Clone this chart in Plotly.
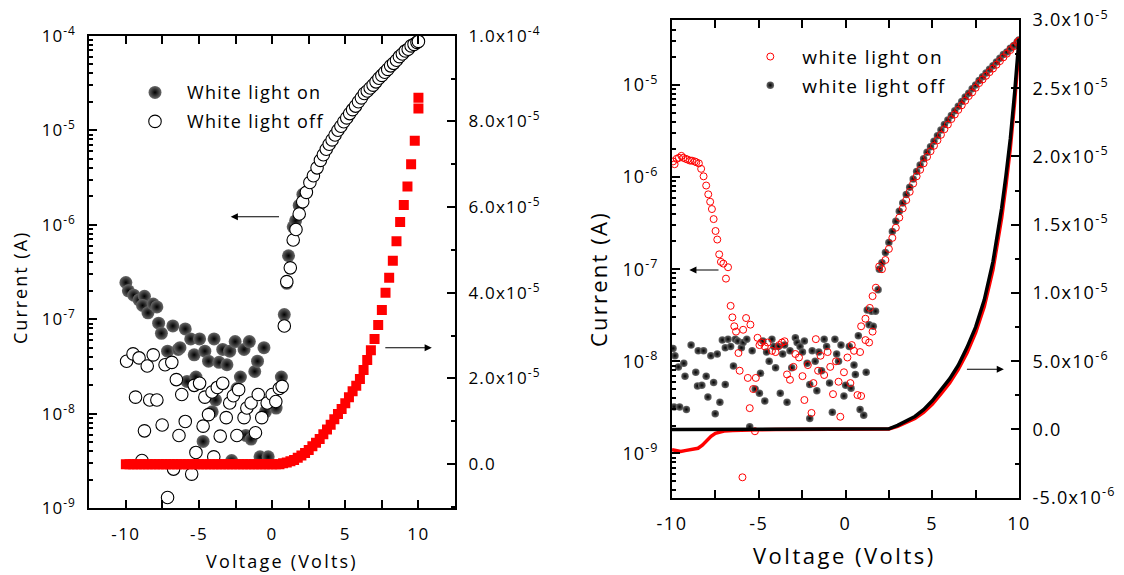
import plotly.graph_objects as go

W, H = 1124, 575
FONT = "Open Sans"

# ---------------- Left panel data ----------------
# White light on (filled spheres), log axis
L_on_v = [-10.0, -9.83, -9.46, -9.1, -8.73, -8.86, -8.49, -8.13, -7.88, -7.76, -7.57, -7.15,
          -6.79, -6.42, -5.94, -5.57, -5.33, -4.96, -4.6, -4.35, -3.97, -3.63, -3.38, -3.09,
          -2.9, -2.53, -2.17, -1.92, -1.56, -1.19, -1.0, -0.56, -0.46, 0.27, 0.63, 0.83,
          -5.82, -5.21, -3.87, -4.1, -4.72, -1.8, -1.44, -0.83, -0.27, -2.77, -2.41, -6.3,
          1.0, 1.12, 1.44, 1.6, 1.85, 2.1]
L_on_i = [2.45e-7, 2.0e-7, 1.8e-7, 1.6e-7, 1.75e-7, 1.4e-7, 1.17e-7, 1.45e-7, 1.35e-7, 9.1e-8, 7.1e-8, 4.6e-8,
          8.5e-8, 4.8e-8, 7.9e-8, 6.2e-8, 4.2e-8, 6.2e-8, 4.6e-8, 3.6e-8, 6.2e-8, 3.5e-8, 4.8e-8, 3.3e-8,
          4.6e-8, 5.8e-8, 2.45e-8, 4.8e-8, 5.8e-8, 2.8e-8, 3.6e-8, 5.0e-8, 1.05e-8, 1.15e-8, 2.45e-8, 1.12e-7,
          2.2e-8, 2.45e-8, 1.4e-8, 1.05e-8, 5.1e-9, 5.9e-9, 5.4e-9, 3.5e-9, 3.5e-9, 3.2e-9, 1.85e-8, 5.0e-8,
          2.4e-7, 4.7e-7, 9.5e-7, 1.1e-6, 1.6e-6, 2.1e-6]

# White light off (open circles), log axis
L_off_v = [-9.95, -9.51, -9.1, -8.54, -8.13, -7.32, -6.86, -9.34, -8.37, -7.88, -8.73, -7.52,
           -6.55, -6.18, -5.94, -6.37, -5.33, -4.96, -4.6, -4.72, -4.35, -4.11, -3.75, -3.38,
           -3.55, -3.14, -2.9, -2.65, -2.41, -2.29, -1.92, -1.73, -1.44, -1.14, -0.95, -0.71,
           -0.34, 0.0, 0.25, 0.49, 0.68, -8.9, -5.21, -6.74, -5.5, -7.15, -3.99,
           0.83, 1.0, 1.24, 1.44, 1.63, 1.85, 2.09, 2.34, 2.58, 2.82, 3.07,
           3.3, 3.5, 3.7, 3.9, 4.1, 4.3, 4.5, 4.7, 4.9, 5.1, 5.3, 5.5, 5.7, 5.9, 6.1, 6.3,
           6.5, 6.7, 6.9, 7.1, 7.3, 7.5, 7.7, 7.9, 8.1, 8.3, 8.5, 8.7, 8.9, 9.1, 9.3, 9.5,
           9.7, 9.9, 10.0]
L_off_i = [3.6e-8, 4.3e-8, 3.9e-8, 3.2e-8, 4.2e-8, 3.3e-8, 3.5e-8, 1.5e-8, 1.4e-8, 1.4e-8, 6.6e-9, 7.6e-9,
           2.3e-8, 1.6e-8, 8.3e-9, 5.9e-9, 2.0e-8, 2.1e-8, 1.5e-8, 7.4e-9, 9.8e-9, 1.7e-8, 1.9e-8, 2.1e-8,
           5.8e-9, 9.1e-9, 1.3e-8, 1.55e-8, 5.9e-9, 1.8e-8, 9.1e-9, 1.15e-8, 1.3e-8, 6.3e-9, 1.6e-8, 9.1e-9,
           1.3e-8, 1.6e-8, 1.35e-8, 1.85e-8, 1.95e-8, 3.2e-9, 3.9e-9, 2.6e-9, 2.3e-9, 1.3e-9, 3.5e-9,
           8.5e-8, 2.5e-7, 3.5e-7, 6.9e-7, 8.9e-7, 1.3e-6, 1.75e-6, 2.2e-6, 2.8e-6, 3.3e-6, 4.0e-6,
           4.8e-6, 5.5e-6, 6.3e-6, 7.1e-6, 7.9e-6, 8.9e-6, 1.0e-5, 1.1e-5, 1.23e-5, 1.35e-5, 1.5e-5, 1.65e-5,
           1.8e-5, 2.0e-5, 2.2e-5, 2.45e-5, 2.6e-5, 2.8e-5, 3.0e-5, 3.25e-5, 3.55e-5, 3.8e-5, 4.1e-5, 4.4e-5,
           4.8e-5, 5.1e-5, 5.5e-5, 6.0e-5, 6.4e-5, 6.9e-5, 7.2e-5, 7.8e-5, 8.1e-5, 8.5e-5, 8.7e-5]

# Linear-scale current (red squares, right axis)
L_lin_v = [-10.0, -9.75, -9.5, -9.25, -9.0, -8.75, -8.5, -8.25, -8.0, -7.75, -7.5, -7.25,
           -7.0, -6.75, -6.5, -6.25, -6.0, -5.75, -5.5, -5.25, -5.0, -4.75, -4.5, -4.25,
           -4.0, -3.75, -3.5, -3.25, -3.0, -2.75, -2.5, -2.25, -2.0, -1.75, -1.5, -1.25,
           -1.0, -0.75, -0.5, -0.25, 0.0, 0.25, 0.5, 0.75, 1.0, 1.25, 1.5, 1.75,
           2.0, 2.25, 2.5, 2.75, 3.0, 3.25, 3.5, 3.75, 4.0, 4.25, 4.5, 4.75,
           5.0, 5.25, 5.5, 5.75, 6.0, 6.25, 6.5, 6.75, 7.0, 7.25, 7.5, 7.75,
           8.0, 8.25, 8.5, 8.75, 9.0, 9.25, 9.5, 9.75, 10.0, 10.0]
L_lin_i = [0, 0, 0, 0, 0, 0, 0, 0, 0, 0, 0, 0,
           0, 0, 0, 0, 0, 0, 0, 0, 0, 0, 0, 0,
           0, 0, 0, 0, 0, 0, 0, 0, 0, 0, 0, 0,
           0, 0, 0, 0, 0, 0, 0, 0.2e-6, 0.4e-6, 0.7e-6, 1.0e-6, 1.5e-6,
           2.0e-6, 2.6e-6, 3.3e-6, 4.2e-6, 5.0e-6, 5.9e-6, 7.0e-6, 8.1e-6, 9.2e-6, 10.5e-6, 11.7e-6, 12.9e-6,
           14.2e-6, 15.6e-6, 17.0e-6, 18.3e-6, 19.9e-6, 22.0e-6, 24.3e-6, 26.6e-6, 29.2e-6, 32.5e-6, 36.0e-6, 40.0e-6,
           43.5e-6, 47.5e-6, 52.0e-6, 56.5e-6, 60.5e-6, 64.8e-6, 70.0e-6, 75.5e-6, 83.0e-6, 85.5e-6]

# ---------------- Right panel data ----------------
# white light on (red open circles), log axis
R_on_v = [-9.94, -9.85, -9.73, -9.6, -9.46, -9.35, -9.21, -9.1, -8.96, -8.85, -8.69, -8.6,
          -8.45, -8.32, -8.18, -8.03, -7.91, -7.8, -7.7, -7.6, -7.49, -7.39, -7.28, -7.18,
          -7.04, -6.89, -6.77, -6.62, -6.52, -6.41, -6.31, -6.17, -6.1, -5.9, -5.73, -5.63,
          -5.48, -5.52, -5.32, -5.17, -5.07, -4.96, -4.86, -4.65, -4.49, -4.24, -4.03, -3.82,
          -3.66, -3.51, -3.37, -3.2, -3.0, -2.89, -2.68, -2.48, -2.37, -2.17, -1.96, -1.85,
          -1.71, -1.58, -1.44, -1.23, -1.03, -0.88, -0.72, -0.55, -0.4, -0.3, -0.09, 0.11,
          0.28, 0.36, 0.49, 0.69, 0.9, 0.84, -5.94, -5.22,
          0.9, 1.15, 1.4, 1.56, 1.15, 1.36, 1.56, 1.75, 1.94,
          2.1, 2.3, 2.5, 2.7, 2.9, 3.1, 3.3, 3.5, 3.7, 3.9, 4.1, 4.3, 4.5, 4.7, 4.9, 5.1,
          5.3, 5.5, 5.7, 5.9, 6.1, 6.3, 6.5, 6.7, 6.9, 7.1, 7.3, 7.5, 7.7, 7.9, 8.1, 8.3,
          8.5, 8.7, 8.9, 9.1, 9.3, 9.5, 9.7, 9.9, 10.0]
R_on_i = [1.48e-6, 1.38e-6, 1.58e-6, 1.62e-6, 1.70e-6, 1.62e-6, 1.58e-6, 1.55e-6, 1.51e-6, 1.51e-6, 1.48e-6, 1.45e-6,
          1.41e-6, 1.23e-6, 1.02e-6, 8.1e-7, 6.5e-7, 5.4e-7, 4.5e-7, 3.5e-7, 2.6e-7, 2.1e-7, 1.45e-7, 1.2e-7,
          1.15e-7, 7.9e-8, 1.05e-7, 4.0e-8, 3.0e-8, 2.4e-8, 2.1e-8, 1.23e-8, 7.9e-9, 2.2e-8, 2.95e-8, 6.6e-9,
          2.5e-8, 3.1e-9, 5.0e-9, 6.6e-9, 1.8e-8, 1.5e-8, 1.6e-8, 1.45e-8, 1.6e-8, 1.3e-8, 1.26e-8, 1.5e-8,
          1.6e-8, 1.65e-8, 7.2e-9, 6.3e-9, 8.7e-9, 1.2e-8, 1.1e-8, 6.9e-9, 3.8e-9, 9.1e-9, 2.75e-9, 5.8e-9,
          1.74e-8, 7.9e-9, 1.15e-8, 7.1e-9, 1.26e-8, 8.7e-9, 4.4e-9, 1.0e-8, 6.0e-9, 2.5e-9, 7.6e-9, 1.1e-8,
          5.8e-9, 1.5e-8, 1.3e-8, 4.3e-9, 4.2e-9, 1.26e-8, 5.5e-10, 1.74e-9,
          2.4e-8, 2.9e-8, 3.8e-8, 5.1e-8, 1.7e-8, 1.6e-8, 2.1e-8, 6.3e-8, 1.07e-7,
          1.0e-7, 1.26e-7, 1.66e-7, 2.19e-7, 2.82e-7, 3.63e-7, 4.57e-7, 5.62e-7, 6.92e-7, 8.51e-7, 1.02e-6, 1.20e-6,
          1.41e-6, 1.66e-6, 1.91e-6, 2.19e-6, 2.51e-6, 2.88e-6, 3.31e-6, 3.72e-6, 4.27e-6, 4.79e-6, 5.37e-6, 6.03e-6,
          6.76e-6, 7.59e-6, 8.32e-6, 9.33e-6, 1.05e-5, 1.15e-5, 1.26e-5, 1.38e-5, 1.51e-5, 1.66e-5, 1.82e-5, 2.0e-5,
          2.19e-5, 2.40e-5, 2.63e-5, 2.88e-5, 3.02e-5]

# white light off (black spheres), log axis
R_off_v = [-9.94, -9.83, -9.63, -9.32, -9.88, -9.56, -9.17, -9.25, -8.9, -8.63, -8.49, -8.53,
           -8.28, -8.18, -8.03, -7.93, -7.76, -7.6, -7.51, -7.39, -7.24, -7.1, -6.93, -6.93,
           -6.77, -6.62, -6.46, -6.35, -6.21, -6.0, -5.9, -5.69, -5.52, -5.38, -5.21, -4.96,
           -4.9, -4.76, -4.65, -4.55, -4.4, -4.24, -4.13, -4.03, -3.87, -3.76, -3.62, -3.51,
           -3.37, -3.2, -3.1, -2.89, -2.79, -2.62, -2.48, -2.37, -2.21, -2.06, -2.06, -1.92,
           -1.75, -1.65, -1.54, -1.38, -1.23, -1.09, -0.92, -0.76, -0.61, -0.51, -0.4, -0.26,
           -0.09, 0.01, 0.22, 0.32, 0.49, 0.57, 0.84, 1.05, 0.74, 1.19,
           1.25, 1.36, 1.5, 1.73, 1.6, 1.88, 1.95,
           2.1, 2.3, 2.5, 2.7, 2.9, 3.1, 3.3, 3.5, 3.7, 3.9, 4.1, 4.3, 4.5, 4.7, 4.9, 5.1,
           5.3, 5.5, 5.7, 5.9, 6.1, 6.3, 6.5, 6.7, 6.9, 7.1, 7.3, 7.5, 7.7, 7.9, 8.1, 8.3,
           8.5, 8.7, 8.9, 9.1, 9.3, 9.5, 9.7, 9.9, 10.0]
R_off_i = [1.38e-8, 1.15e-8, 8.7e-9, 9.5e-9, 3.2e-9, 3.2e-9, 3.0e-9, 6.9e-9, 1.5e-8, 7.6e-9, 1.3e-8, 5.4e-9,
           5.5e-9, 1.3e-8, 6.9e-9, 4.1e-9, 1.15e-8, 5.9e-9, 2.7e-9, 1.2e-8, 3.6e-9, 1.7e-8, 5.6e-9, 1.4e-8,
           1.74e-8, 1.45e-8, 8.9e-9, 1.74e-8, 1.66e-8, 1.4e-8, 1.6e-8, 1.74e-8, 1.95e-9, 1.3e-8, 5.0e-9, 4.5e-9,
           7.4e-9, 1.66e-8, 3.7e-9, 1.26e-8, 1.0e-8, 1.74e-8, 1.45e-8, 8.5e-9, 1.45e-8, 4.5e-9, 1.2e-8, 1.5e-8,
           3.6e-9, 1.3e-8, 8.5e-9, 1.8e-8, 1.6e-8, 1.45e-8, 1.26e-8, 1.66e-8, 9.5e-9, 2.4e-9, 5.6e-9, 1.3e-8,
           1.0e-8, 4.8e-9, 1.26e-8, 7.9e-9, 1.74e-8, 1.45e-8, 5.8e-9, 2.8e-9, 1.74e-8, 1.2e-8, 1.0e-8, 1.5e-8,
           4.2e-9, 5.5e-9, 1.45e-8, 5.1e-9, 9.1e-9, 7.2e-9, 3.0e-9, 2.6e-9, 1.9e-8, 7.6e-9,
           3.6e-8, 2.5e-8, 3.5e-8, 3.5e-8, 2.4e-8, 6.0e-8, 1.0e-7,
           1.175e-7, 1.514e-7, 1.95e-7, 2.57e-7, 3.31e-7, 4.27e-7, 5.25e-7, 6.46e-7, 7.76e-7, 9.55e-7, 1.15e-6, 1.35e-6,
           1.585e-6, 1.86e-6, 2.14e-6, 2.45e-6, 2.82e-6, 3.24e-6, 3.72e-6, 4.17e-6, 4.68e-6, 5.25e-6, 5.89e-6, 6.61e-6,
           7.41e-6, 8.13e-6, 9.12e-6, 1.0e-5, 1.12e-5, 1.23e-5, 1.35e-5, 1.48e-5, 1.62e-5, 1.78e-5, 1.95e-5, 2.14e-5,
           2.29e-5, 2.51e-5, 2.69e-5, 2.95e-5, 3.09e-5]

# Linear-scale curves (right axis)
R_lin_on_v = [-10.0, -9.75, -9.5, -9.25, -9.0, -8.75, -8.5, -8.25, -8.0, -7.75, -7.5, -7.25,
              -7.0, -6.5, -6.0, -5.0, -4.0, -3.0, -2.0, -1.0, 0.0, 1.0, 2.0, 2.5,
              3.0, 3.5, 4.0, 4.5, 5.0, 5.5, 6.0, 6.5, 7.0, 7.5, 8.0, 8.5,
              9.0, 9.25, 9.5, 9.75, 10.0]
R_lin_on_i = [-1.48e-6, -1.55e-6, -1.62e-6, -1.55e-6, -1.48e-6, -1.45e-6, -1.38e-6, -1.15e-6, -0.83e-6, -0.5e-6, -0.28e-6, -0.17e-6,
              -0.12e-6, -0.07e-6, -0.04e-6, -0.02e-6, 0, 0, 0, 0, 0, 0, 0, 0.03e-6,
              0.22e-6, 0.5e-6, 0.8e-6, 1.25e-6, 1.85e-6, 2.6e-6, 3.4e-6, 4.4e-6, 5.6e-6, 7.1e-6, 9.0e-6, 11.7e-6,
              15.5e-6, 17.9e-6, 20.6e-6, 24.0e-6, 28.0e-6]
R_lin_off_v = [-10.0, -5.0, 0.0, 2.0, 2.5, 3.0, 3.5, 4.0, 4.5, 5.0, 5.5, 6.0, 6.5,
               7.0, 7.5, 8.0, 8.5, 9.0, 9.25, 9.5, 9.75, 10.0]
R_lin_off_i = [0, 0, 0, 0, 0.05e-6, 0.3e-6, 0.62e-6, 0.95e-6, 1.45e-6, 2.1e-6, 2.9e-6, 3.7e-6, 4.7e-6,
               6.0e-6, 7.5e-6, 9.5e-6, 12.3e-6, 16.2e-6, 18.6e-6, 21.3e-6, 24.7e-6, 28.6e-6]

# ---------------- Tick labels ----------------
LOG_TICKS_L = [1e-9, 1e-8, 1e-7, 1e-6, 1e-5, 1e-4]
LOG_TEXT_L = ["10<sup>-9</sup>", "10<sup>-8</sup>", "10<sup>-7</sup>", "10<sup>-6</sup>", "10<sup>-5</sup>", "10<sup>-4</sup>"]
LIN_TICKS_L = [0, 2e-5, 4e-5, 6e-5, 8e-5, 1e-4]
LIN_TEXT_L = ["0.0", "2.0x10<sup>-5</sup>", "4.0x10<sup>-5</sup>", "6.0x10<sup>-5</sup>", "8.0x10<sup>-5</sup>", "1.0x10<sup>-4</sup>"]
LOG_TICKS_R = [1e-9, 1e-8, 1e-7, 1e-6, 1e-5]
LOG_TEXT_R = ["10<sup>-9</sup>", "10<sup>-8</sup>", "10<sup>-7</sup>", "10<sup>-6</sup>", "10<sup>-5</sup>"]
LIN_TICKS_R = [-5e-6, 0, 5e-6, 1e-5, 1.5e-5, 2e-5, 2.5e-5, 3e-5]
LIN_TEXT_R = ["-5.0x10<sup>-6</sup>", "0.0", "5.0x10<sup>-6</sup>", "1.0x10<sup>-5</sup>", "1.5x10<sup>-5</sup>",
              "2.0x10<sup>-5</sup>", "2.5x10<sup>-5</sup>", "3.0x10<sup>-5</sup>"]
X_TICKS = [-10, -5, 0, 5, 10]


def spaced(t, ls):
    return '<span style="letter-spacing:%.1fpx">%s</span>' % (ls, t)


# ---------------- Layout geometry (pixels) ----------------
def px(x):
    return x / W


def py(y):
    return 1 - y / H


L_box = (89.3, 455.0, 35.7, 508.3)   # left, right, top, bottom
R_box = (672.0, 1019.0, 20.0, 497.7)

minor_log = [m * 10.0 ** e for e in range(-10, -3) for m in range(2, 10)]

fig = go.Figure()


def sphere(size):
    return dict(size=size, color="#6a6a6a", gradient=dict(type="radial", color="#000000"),
                line=dict(width=0))


# Left panel traces
fig.add_trace(go.Scatter(x=L_on_v, y=L_on_i, mode="markers", name=spaced("White light on", 1.3),
                         marker=sphere(13), xaxis="x", yaxis="y", legend="legend"))
fig.add_trace(go.Scatter(x=L_off_v, y=L_off_i, mode="markers", name=spaced("White light off", 1.3),
                         marker=dict(size=12.5, color="white", line=dict(color="black", width=1.1)),
                         xaxis="x", yaxis="y", legend="legend2"))
fig.add_trace(go.Scatter(x=L_lin_v, y=L_lin_i, mode="markers", showlegend=False,
                         marker=dict(symbol="square", size=10, color="#ff0000", line=dict(width=0)),
                         xaxis="x", yaxis="y2"))

# Right panel traces
fig.add_trace(go.Scatter(x=R_off_v, y=R_off_i, mode="markers", name=spaced("white light off", 1.5),
                         marker=sphere(7.5), xaxis="x2", yaxis="y3", legend="legend4"))
fig.add_trace(go.Scatter(x=R_on_v, y=R_on_i, mode="markers", name=spaced("white light on", 1.5),
                         marker=dict(symbol="circle-open", size=7, color="#ff0000", line=dict(width=1)),
                         xaxis="x2", yaxis="y3", legend="legend3"))
fig.add_trace(go.Scatter(x=R_lin_on_v, y=R_lin_on_i, mode="lines", showlegend=False,
                         line=dict(color="#ff0000", width=3.5), xaxis="x2", yaxis="y4"))
fig.add_trace(go.Scatter(x=R_lin_off_v, y=R_lin_off_i, mode="lines", showlegend=False,
                         line=dict(color="#000000", width=3.5), xaxis="x2", yaxis="y4"))

common = dict(showline=True, linecolor="black", linewidth=2, ticks="inside", tickcolor="black",
              tickwidth=1.5, showgrid=False, zeroline=False, automargin=False)


def xax(box, rng, fs, ls):
    return dict(common, domain=[px(box[0]), px(box[1])], range=rng, tickvals=X_TICKS,
                ticktext=[spaced(str(v), ls) for v in X_TICKS],
                ticklen=8, mirror="allticks", ticklabelstandoff=9,
                minor=dict(ticks="inside", ticklen=4, dtick=2.5, tickcolor="black", showgrid=False),
                tickfont=dict(family=FONT, size=fs, color="black"))


def ylog(box, rng, tv, tt, fs, ls):
    return dict(common, type="log", domain=[py(box[3]), py(box[2])], range=rng,
                tickvals=tv, ticktext=[spaced(t, ls) for t in tt], ticklen=8, ticklabelstandoff=8,
                minor=dict(ticks="inside", ticklen=4, tickvals=minor_log, tickcolor="black", showgrid=False),
                tickfont=dict(family=FONT, size=fs, color="black"))


def ylin(anchor, over, rng, tv, tt, mdt, fs, ls):
    return dict(common, anchor=anchor, overlaying=over, side="right", range=rng,
                tickvals=tv, ticktext=[spaced(t, ls) for t in tt], ticklen=8, ticklabelstandoff=8,
                minor=dict(ticks="inside", ticklen=4, dtick=mdt, tickcolor="black", showgrid=False),
                tickfont=dict(family=FONT, size=fs, color="black"))


fig.update_layout(
    width=W, height=H,
    margin=dict(l=0, r=0, t=0, b=0),
    paper_bgcolor="white", plot_bgcolor="white",
    font=dict(family=FONT, color="black"),
    xaxis=dict(xax(L_box, [-12.5, 12.5], 17, 1.5), anchor="y"),
    yaxis=dict(ylog(L_box, [-9, -4], LOG_TICKS_L, LOG_TEXT_L, 17, 1.0), anchor="x"),
    yaxis2=ylin("x", "y", [-1.03e-5, 1.0e-4], LIN_TICKS_L, LIN_TEXT_L, 1e-5, 17, 1.2),
    xaxis2=dict(xax(R_box, [-10, 10], 18, 1.5), anchor="y3"),
    yaxis3=dict(ylog(R_box, [-9.481, -4.294], LOG_TICKS_R, LOG_TEXT_R, 18, 1.0), anchor="x2"),
    yaxis4=ylin("x2", "y3", [-5e-6, 3e-5], LIN_TICKS_R, LIN_TEXT_R, 2.5e-6, 18, 1.2),
)


def leg(xmark, ymark, fs):
    return dict(x=px(xmark - 32), y=py(ymark), xanchor="left", yanchor="middle",
                bgcolor="rgba(0,0,0,0)", borderwidth=0, itemwidth=54,
                font=dict(family=FONT, size=fs, color="black"))


fig.update_layout(
    legend=leg(155.0, 92.7, 18),
    legend2=leg(155.0, 121.7, 18),
    legend3=leg(770.3, 56.7, 19),
    legend4=leg(770.3, 85.3, 19),
)

annos = [
    dict(text=spaced("Current (A)", 2.0), x=px(20), y=py(288), textangle=-90, font=dict(size=18)),
    dict(text=spaced("Voltage (Volts)", 2.2), x=px(282), y=py(561), font=dict(size=18)),
    dict(text=spaced("Current (A)", 2.2), x=px(598), y=py(279), textangle=-90, font=dict(size=22)),
    dict(text=spaced("Voltage (Volts)", 2.5), x=px(844), y=py(555), font=dict(size=22)),
]
for a in annos:
    a.update(xref="paper", yref="paper", showarrow=False, xanchor="center", yanchor="middle")
    a["font"].update(family=FONT, color="black")
    fig.add_annotation(**a)

arrows = [  # (head_x, tail_x, y) in pixels
    (230.7, 280.5, 216.7),
    (431.8, 383.8, 347.8),
    (689.3, 720.0, 270.0),
    (1003.9, 965.4, 369.3),
]
for hx, tx, yy in arrows:
    fig.add_annotation(x=px(hx), y=py(yy), xref="paper", yref="paper", ax=tx - hx, ay=0,
                       axref="pixel", ayref="pixel", text="", showarrow=True,
                       arrowhead=2, arrowsize=1.3, arrowwidth=1.1, arrowcolor="black")

fig.write_html("out.html", config={"displayModeBar": False},
               post_script="document.body.style.margin='0px';")
